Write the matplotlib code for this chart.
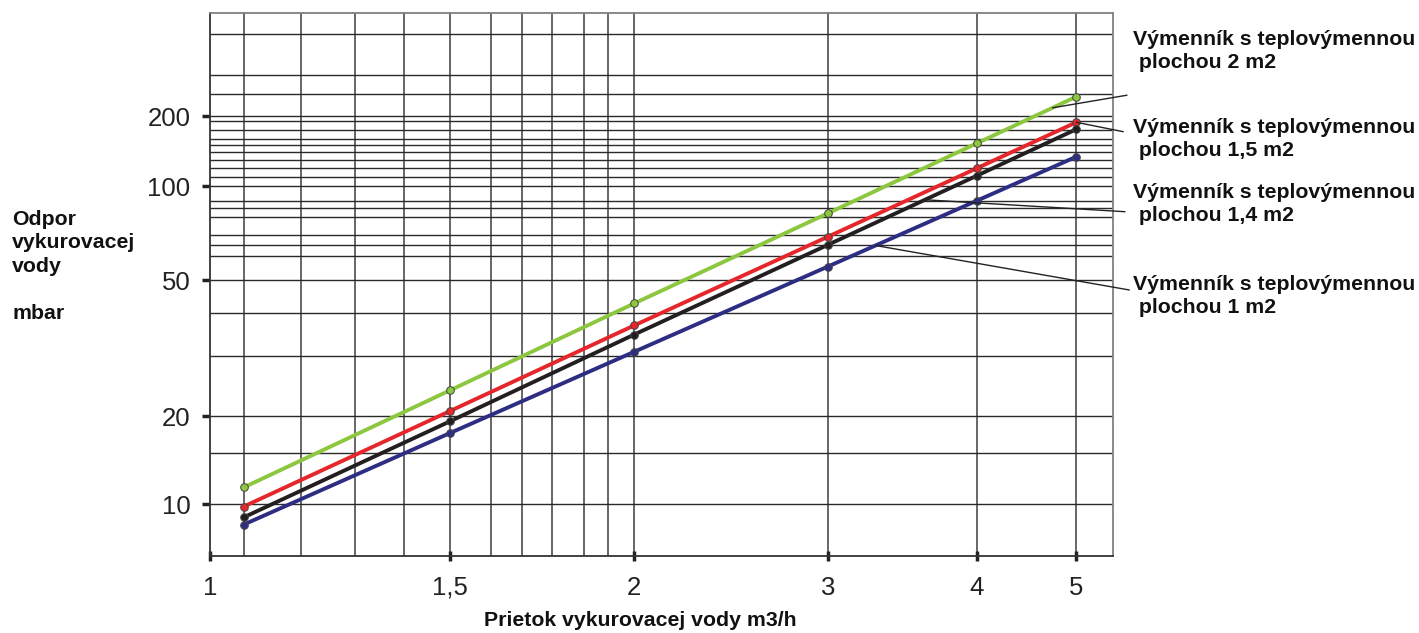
import numpy as np
import matplotlib.pyplot as plt

plt.rcParams['font.family'] = ['Liberation Sans', 'DejaVu Sans']

# flow of heating water (m3/h) and pressure drop (mbar) per exchanger size
flow = [1.1, 1.5, 2, 3, 4, 5]
dp_2m2 = [11.4, 23.8, 42.8, 81.9, 153, 243]
dp_15m2 = [9.8, 20.7, 36.9, 68.9, 119.5, 188.5]
dp_14m2 = [9.0, 19.2, 34.7, 64.9, 111, 176]
dp_1m2 = [8.5, 17.5, 30.9, 55.3, 89.9, 134]

series_names = [
    "Výmenník s teplovýmennou\n plochou 2 m2",
    "Výmenník s teplovýmennou\n plochou 1,5 m2",
    "Výmenník s teplovýmennou\n plochou 1,4 m2",
    "Výmenník s teplovýmennou\n plochou 1 m2",
]

x_ticks = [1, 1.5, 2, 3, 4, 5]
x_tick_labels = ["1", "1,5", "2", "3", "4", "5"]
x_grid = [1.1, 1.2, 1.3, 1.4, 1.6, 1.68, 1.76, 1.85, 1.92]
y_ticks = [10, 20, 50, 100, 200]
y_tick_labels = ["10", "20", "50", "100", "200"]
y_grid = [15, 30, 40, 60, 65, 70, 80, 85, 90, 110, 120, 130, 140, 150,
          160, 175, 190, 250, 300, 450]

COLORS = ["#8dc63f", "#e5262a", "#231f20", "#2e2d84"]

# the printed nomogram is only roughly logarithmic: value -> paper position (px)
X_SCALE = ([1, 1.1, 1.5, 2, 3, 4, 5, 5.42],
           [0, 33.7, 239.7, 424.3, 617.7, 766.7, 866.3, 902.7])
Y_SCALE = ([6.65, 10, 20, 50, 100, 200, 555],
           [0, 51.7, 139.4, 275.4, 369.4, 439.4, 542.4])


def warp(knots):
    lv = np.log10(np.asarray(knots[0], float))
    pos = np.asarray(knots[1], float)
    s_lo = (pos[1] - pos[0]) / (lv[1] - lv[0])
    s_hi = (pos[-1] - pos[-2]) / (lv[-1] - lv[-2])

    def fwd(v):
        lg = np.log10(np.clip(np.asarray(v, float), 1e-6, None))
        out = np.interp(lg, lv, pos)
        out = np.where(lg < lv[0], pos[0] + (lg - lv[0]) * s_lo, out)
        out = np.where(lg > lv[-1], pos[-1] + (lg - lv[-1]) * s_hi, out)
        return out

    def inv(p):
        p = np.asarray(p, float)
        lg = np.interp(p, pos, lv)
        lg = np.where(p < pos[0], lv[0] + (p - pos[0]) / s_lo, lg)
        lg = np.where(p > pos[-1], lv[-1] + (p - pos[-1]) / s_hi, lg)
        return 10 ** lg

    return fwd, inv


xf, xi = warp(X_SCALE)
yf, yi = warp(Y_SCALE)


def on_curve(xs, ys, xq):
    return float(yi(np.interp(xf(xq), xf(np.array(xs)), yf(np.array(ys)))))


fig = plt.figure(figsize=(14.19, 6.33), dpi=100)
ax = fig.add_axes([210 / 1419, 1 - 555.7 / 633, 902.7 / 1419, 542.4 / 633])
ax.set_xscale('function', functions=(xf, xi))
ax.set_yscale('function', functions=(yf, yi))
ax.set_xlim(1, 5.42)
ax.set_ylim(6.65, 555)

for gx in x_grid + x_ticks[1:]:
    ax.axvline(gx, color="#5a5a5a", lw=1.3, zorder=1)
for gy in y_grid + y_ticks:
    ax.axhline(gy, color="#2a2a2a", lw=1.0, zorder=1)

all_series = [dp_2m2, dp_15m2, dp_14m2, dp_1m2]
for ys, c in zip(all_series, COLORS):
    ax.plot(flow, ys, color=c, lw=2.8, marker='o', markersize=5.5,
            markerfacecolor=c, markeredgecolor="#444444", markeredgewidth=0.7,
            zorder=3, solid_capstyle='butt')

ax.set_xticks(x_ticks)
ax.set_xticklabels(x_tick_labels)
ax.set_yticks(y_ticks)
ax.set_yticklabels(y_tick_labels)
ax.minorticks_off()
ax.tick_params(axis='x', direction='inout', length=7, width=2.5, pad=11,
               labelsize=18.5, labelcolor="#222222", color="#222222")
ax.tick_params(axis='y', direction='out', length=6, width=2.5, pad=8,
               labelsize=18.5, labelcolor="#222222", color="#222222")

for side in ["left", "bottom"]:
    ax.spines[side].set_color("#333333")
    ax.spines[side].set_linewidth(1.3)
for side in ["right", "top"]:
    ax.spines[side].set_color("#808080")
    ax.spines[side].set_linewidth(1.3)

# labels on the right with leader lines to the curves
label_y = [0.930, 0.768, 0.648, 0.479]
leader_x = [4.74, 5, 3.62, 3.29]
leader_end = [(1.0158, 0.849), (1.0117, 0.7817), (1.0136, 0.6342), (1.0184, 0.4899)]
for name, ys, ly, lx, end in zip(series_names, all_series, label_y, leader_x, leader_end):
    ax.text(1.0225, ly, name, transform=ax.transAxes, ha='left', va='center',
            fontsize=15.3, fontweight='bold', linespacing=1.28, color="#111111")
    ax.annotate('', xy=(lx, on_curve(flow, ys, lx)), xycoords='data',
                xytext=end, textcoords='axes fraction',
                arrowprops=dict(arrowstyle='-', color="#222222", lw=1.0,
                                shrinkA=0, shrinkB=0),
                annotation_clip=False, zorder=4)

fig.text(12 / 1419, 1 - 210 / 633, "Odpor\nvykurovacej\nvody\n\nmbar",
         ha='left', va='top', fontsize=15.3, fontweight='bold', linespacing=1.3,
         color="#111111")
fig.text(640 / 1419, 1 - 626 / 633, "Prietok vykurovacej vody m3/h",
         ha='center', va='baseline', fontsize=15.3, fontweight='bold',
         color="#111111")

fig.savefig("out.png", dpi=100)
